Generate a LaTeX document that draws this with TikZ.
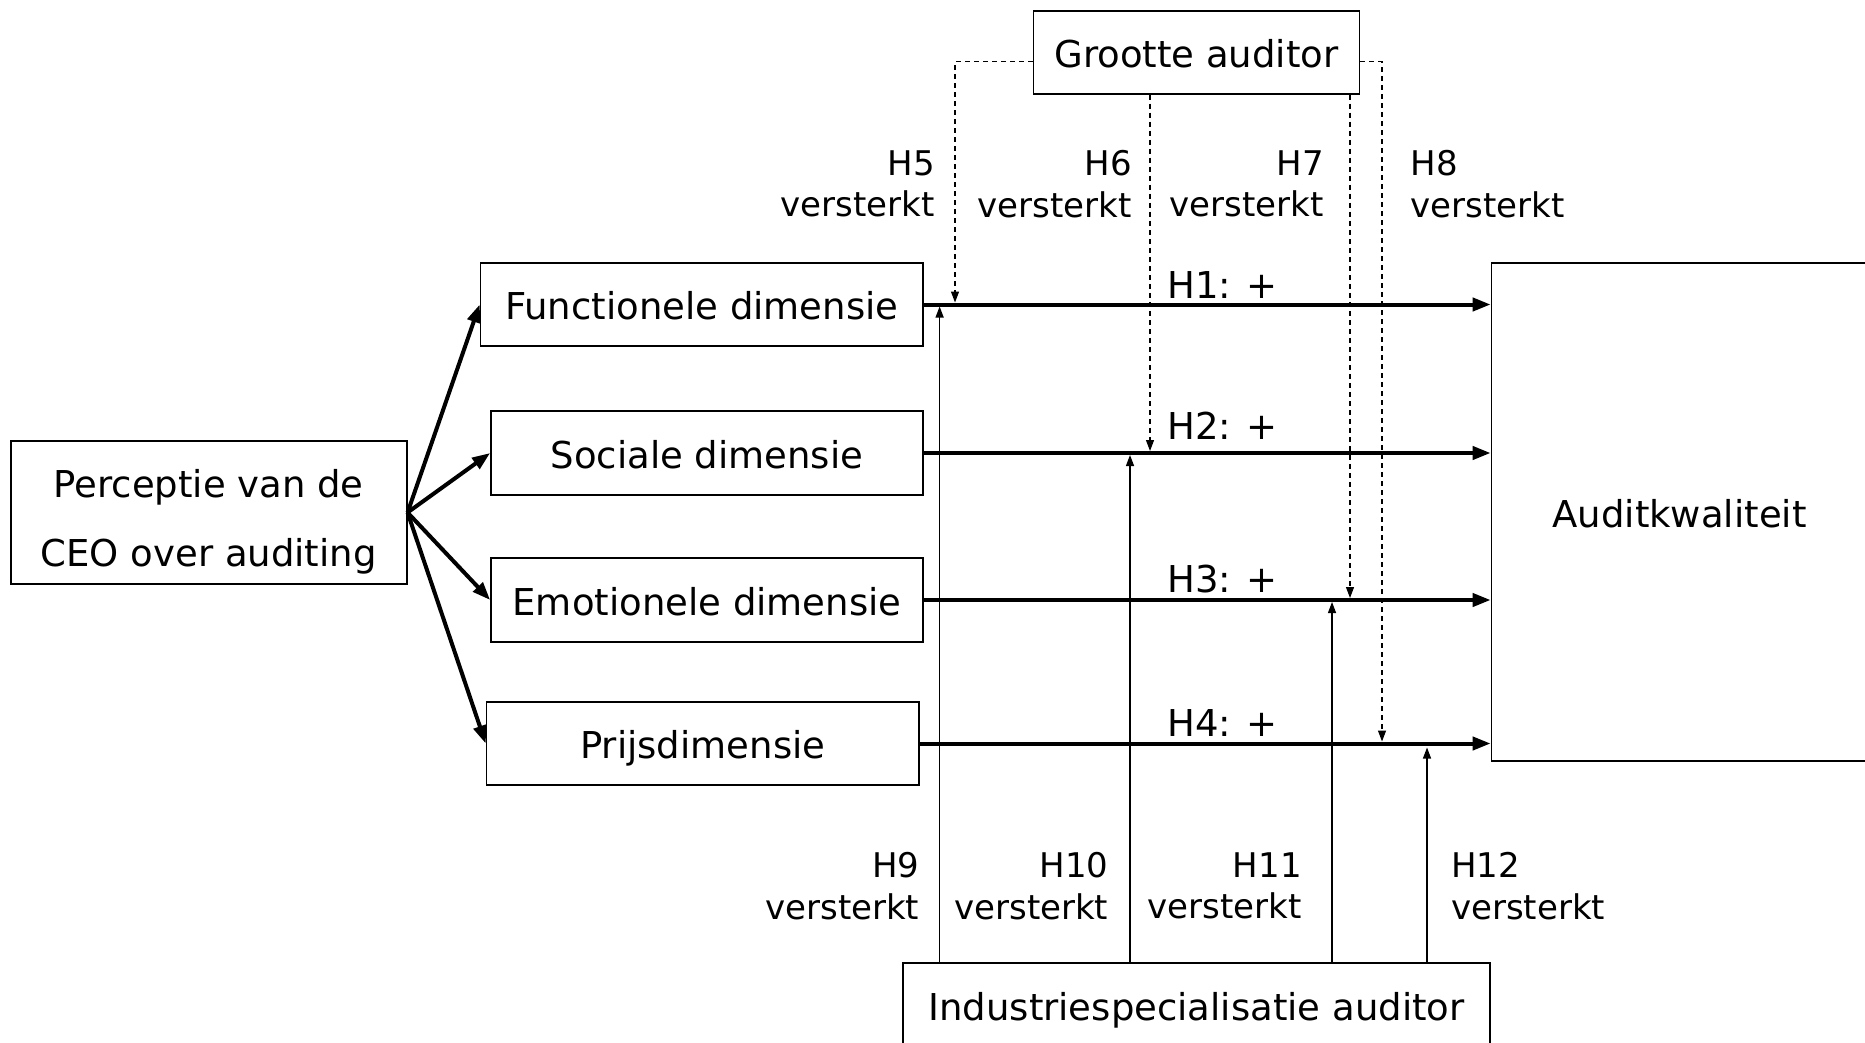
\documentclass[tikz,border=0pt]{standalone}
\usepackage{fontspec}
\setmainfont{DejaVu Sans}
\usetikzlibrary{arrows.meta}
\tikzset{
  box/.style={draw, line width=1.7pt, inner sep=0pt, text height=30pt, text depth=0pt,
    font=\fontsize{37}{44}\selectfont},
  mainarrow/.style={line width=4pt, -{Triangle[length=18pt,width=13pt]}},
  modline/.style={line width=1.2pt, dash pattern=on 5pt off 4pt, -{Triangle[length=11pt,width=8pt]}},
  specline/.style={line width=1.3pt, -{Triangle[length=11pt,width=8pt]}},
  hyplabel/.style={font=\fontsize{34}{41.6}\selectfont, inner sep=0pt},
  effect/.style={font=\fontsize{37}{44}\selectfont, inner sep=0pt, anchor=west}
}

\begin{document}
\begin{tikzpicture}[x=1pt,y=-1pt]
\clip (0,0) rectangle (1865,1043);

% boxes
\node[box, minimum width=396pt, minimum height=143pt, align=center, text height=108pt,
      font=\fontsize{37}{69}\selectfont] (perc) at (208.7,512.5) {Perceptie van de\\CEO over auditing};
\node[box, minimum width=442.5pt, minimum height=83pt] (func) at (701.75,304.5) {Functionele dimensie};
\node[box, minimum width=432pt, minimum height=83.5pt] (soc) at (707,453) {Sociale dimensie};
\node[box, minimum width=432pt, minimum height=84pt] (emo) at (707,600) {Emotionele dimensie};
\node[box, minimum width=432.5pt, minimum height=83pt] (prijs) at (702.75,743.5) {Prijsdimensie};
\node[box, minimum width=326pt, minimum height=83pt] (groot) at (1196.5,52.4) {Grootte auditor};
\node[box, minimum width=587pt, minimum height=84pt] (indu) at (1196.5,1005) {Industriespecialisatie auditor};
\node[box, minimum width=376pt, minimum height=498pt] (audit) at (1679.5,512) {Auditkwaliteit};

% perception -> dimensions
\foreach \dim in {func,soc,emo,prijs}
  \draw[mainarrow] (perc.east) -- (\dim.west);

% main effects
\foreach \dim in {func,soc,emo,prijs}
  \draw[mainarrow] (\dim.east) -- (\dim.east -| audit.west);
\node[effect] (e1) at (1167,285.5) {H1: +};
\node[effect] (e2) at (1167,425.8) {H2: +};
\node[effect] (e3) at (1167,579) {H3: +};
\node[effect] (e4) at (1167,723) {H4: +};

% moderators
\coordinate (x5) at (955,0);
\coordinate (x6) at (1150,0);
\coordinate (x7) at (1350,0);
\coordinate (x8) at (1382,0);
\coordinate (x9) at (939.6,0);
\coordinate (x10) at (1130,0);
\coordinate (x11) at (1332,0);
\coordinate (x12) at (1427,0);

\draw[modline, shorten >=2pt] ([yshift=-9.4pt]groot.west) -| (x5 |- func.east);
\draw[modline, shorten >=2pt] (x6 |- groot.south) -- (x6 |- soc.east);
\draw[modline, shorten >=2pt] (x7 |- groot.south) -- (x7 |- emo.east);
\draw[modline, shorten >=2pt] ([yshift=-9.4pt]groot.east) -| (x8 |- prijs.east);

\draw[specline, shorten >=2pt] (x9 |- indu.north) -- (x9 |- func.east);
\draw[specline, shorten >=2pt] (x10 |- indu.north) -- (x10 |- soc.east);
\draw[specline, shorten >=2pt] (x11 |- indu.north) -- (x11 |- emo.east);
\draw[specline, shorten >=4pt] (x12 |- indu.north) -- (x12 |- prijs.east);

\node[hyplabel, anchor=east, align=right] (l5) at (935,184) {H5\\versterkt};
\node[hyplabel, anchor=east, align=right] (l6) at (1132,184) {H6\\versterkt};
\node[hyplabel, anchor=east, align=right] (l7) at (1324,184) {H7\\versterkt};
\node[hyplabel, anchor=west, align=left] (l8) at (1410.6,184) {H8\\versterkt};
\node[hyplabel, anchor=east, align=right] (l9) at (919.5,886) {H9\\versterkt};
\node[hyplabel, anchor=east, align=right] (l10) at (1108.5,886) {H10\\versterkt};
\node[hyplabel, anchor=east, align=right] (l11) at (1302,886) {H11\\versterkt};
\node[hyplabel, anchor=west, align=left] (l12) at (1451,886) {H12\\versterkt};
\end{tikzpicture}
\end{document}
